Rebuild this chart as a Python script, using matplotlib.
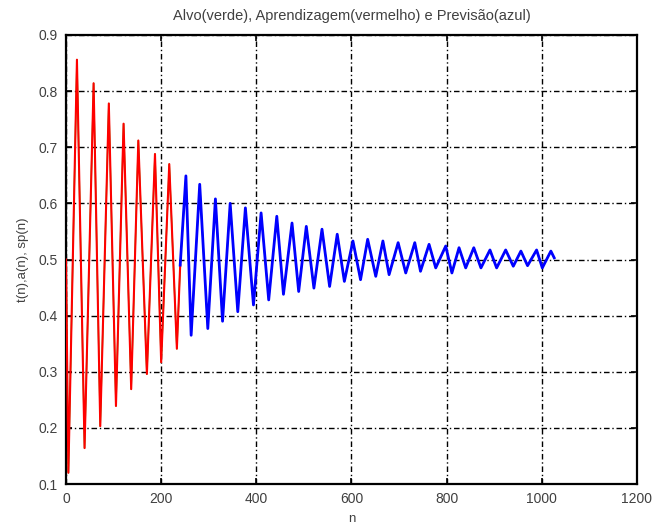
import matplotlib
matplotlib.use("Agg")
import matplotlib.pyplot as plt

# Learning phase (red): turning points of the series, sample index and value
red_n = [0, 5, 23, 39, 58, 72, 90, 105, 121, 137, 152, 170, 187, 200, 217, 233, 240]
red_v = [0.50, 0.12, 0.856, 0.164, 0.814, 0.203, 0.778, 0.239, 0.742, 0.269,
         0.712, 0.296, 0.688, 0.317, 0.670, 0.341, 0.49]

# Prediction phase (blue)
blue_n = [240, 252, 263, 281, 298, 314, 329, 345, 361, 377,
          394, 410, 426, 443, 457, 475, 489, 505, 521, 538,
          554, 570, 585, 603, 619, 634, 651, 666, 679, 698,
          714, 733, 745, 763, 777, 798, 811, 826, 840, 857,
          872, 891, 905, 924, 940, 956, 970, 989, 1001, 1019, 1026]
blue_v = [0.49, 0.649, 0.365, 0.634, 0.377, 0.608, 0.390, 0.600, 0.407, 0.592,
          0.419, 0.583, 0.428, 0.577, 0.438, 0.565, 0.443, 0.559, 0.449, 0.554,
          0.452, 0.545, 0.461, 0.533, 0.464, 0.536, 0.470, 0.533, 0.473, 0.530,
          0.476, 0.530, 0.479, 0.527, 0.485, 0.524, 0.476, 0.521, 0.485, 0.521,
          0.485, 0.517, 0.485, 0.517, 0.488, 0.515, 0.489, 0.517, 0.485, 0.515, 0.503]

x_ticks = [0, 200, 400, 600, 800, 1000, 1200]
y_ticks = [0.1, 0.2, 0.3, 0.4, 0.5, 0.6, 0.7, 0.8, 0.9]

title = "Alvo(verde), Aprendizagem(vermelho) e Previsão(azul)"

plt.rcParams['font.family'] = ['Liberation Sans', 'DejaVu Sans']
text_col = '#404040'

fig = plt.figure(figsize=(6.54, 5.29), dpi=100)
ax = fig.add_axes([66 / 654, 1 - 484 / 529, (637 - 66) / 654, (484 - 35) / 529])

# target underneath, then learning and prediction on top
ax.plot(red_n, red_v, color='#00dd00', lw=1.0, zorder=2)
ax.plot(blue_n, blue_v, color='#00dd00', lw=1.0, zorder=2)
ax.plot(red_n, red_v, color='#ff0000', lw=1.5, zorder=3)
ax.plot(blue_n, blue_v, color='#0000ff', lw=2.0, zorder=3)

ax.set_xlim(0, 1200)
ax.set_ylim(0.1, 0.9)
ax.set_xticks(x_ticks)
ax.set_yticks(y_ticks)
ax.set_xticklabels([str(v) for v in x_ticks])
ax.set_yticklabels([f"{v:.1f}" for v in y_ticks])

ax.grid(True, color='black', linestyle=(0, (4, 2, 1, 2)), linewidth=1.0)
ax.set_axisbelow(False)
for s in ax.spines.values():
    s.set_linewidth(1.6)
    s.set_color('black')

ax.tick_params(direction='in', top=True, right=True, length=4, width=1.2,
               labelsize=10, labelcolor=text_col, pad=6)

ax.set_title(title, fontsize=10.5, color=text_col, pad=11)
ax.set_xlabel('n', fontsize=9.5, color=text_col, labelpad=5)
ax.set_ylabel('t(n),a(n), sp(n)', fontsize=9.5, color=text_col, labelpad=7)

fig.savefig('out.png', dpi=100)
